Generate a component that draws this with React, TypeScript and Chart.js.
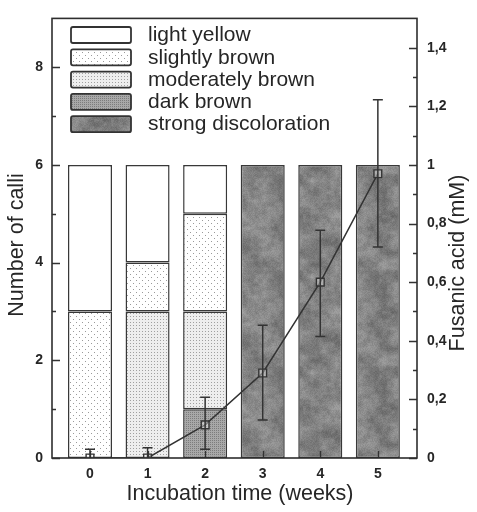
import React, { useEffect, useRef } from 'react';
import { Chart, registerables } from 'chart.js';

Chart.register(...registerables);

// ---------- data ----------
const weeks = [0, 1, 2, 3, 4, 5];
const weekLabels = ['0', '1', '2', '3', '4', '5'];
const categoryNames = ['light yellow', 'slightly brown', 'moderately brown', 'dark brown', 'strong discoloration'];
const lightYellow = [3, 2, 1, 0, 0, 0];
const slightlyBrown = [3, 1, 2, 0, 0, 0];
const moderatelyBrown = [0, 3, 2, 0, 0, 0];
const darkBrown = [0, 0, 1, 0, 0, 0];
const strongDiscoloration = [0, 0, 0, 6, 6, 6];
const fusanicAcid = [0, 0, 0.113, 0.29, 0.6, 0.97];
const fusanicLow = [0, 0, 0.03, 0.13, 0.415, 0.72];
const fusanicHigh = [0.03, 0.035, 0.207, 0.453, 0.777, 1.222];
const calliTicks = [0, 2, 4, 6, 8];
const calliTickLabels = ['0', '2', '4', '6', '8'];
const calliMinorTicks = [1, 3, 5, 7];
const acidTicks = [0, 0.2, 0.4, 0.6, 0.8, 1, 1.2, 1.4];
const acidTickLabels = ['0', '0,2', '0,4', '0,6', '0,8', '1', '1,2', '1,4'];
const acidMinorTicks = [0.1, 0.3, 0.5, 0.7, 0.9, 1.1, 1.3];
const yTitle = 'Number of calli';
const y1Title = 'Fusanic acid (mM)';
const xTitle = 'Incubation time (weeks)';

const FONT = '"Liberation Sans", Arial, sans-serif';
const INK = '#262626';

function hash(i: number, j: number) {
  const s = Math.sin(i * 12.9898 + j * 78.233) * 43758.5453;
  return s - Math.floor(s);
}

function smoothNoise(x: number, y: number, cell: number, period: number) {
  const gx = x / cell, gy = y / cell;
  const x0 = Math.floor(gx), y0 = Math.floor(gy);
  const fx = gx - x0, fy = gy - y0;
  const p = period / cell;
  const h = (a: number, b: number) => hash(((a % p) + p) % p, ((b % p) + p) % p);
  const sx = fx * fx * (3 - 2 * fx), sy = fy * fy * (3 - 2 * fy);
  const a = h(x0, y0), b = h(x0 + 1, y0), c = h(x0, y0 + 1), d = h(x0 + 1, y0 + 1);
  return (a * (1 - sx) + b * sx) * (1 - sy) + (c * (1 - sx) + d * sx) * sy;
}

function makePattern(kind: string): CanvasPattern | string {
  const c = document.createElement('canvas');
  let w = 4, h = 4;
  if (kind === 'slightly') { w = 6; h = 6; }
  if (kind === 'moderately') { w = 3; h = 3; }
  if (kind === 'dark') { w = 2; h = 2; }
  if (kind === 'strong') { w = 96; h = 96; }
  c.width = w; c.height = h;
  const g = c.getContext('2d')!;
  if (kind === 'slightly') {
    g.fillStyle = '#ffffff'; g.fillRect(0, 0, w, h);
    g.fillStyle = '#9a9a9a';
    g.fillRect(1, 1, 1, 1); g.fillRect(4, 4, 1, 1);
  } else if (kind === 'moderately') {
    g.fillStyle = '#eeeeee'; g.fillRect(0, 0, w, h);
    g.fillStyle = '#a0a0a0';
    g.fillRect(1, 1, 1, 1);
  } else if (kind === 'dark') {
    g.fillStyle = '#a8a8a8'; g.fillRect(0, 0, w, h);
    g.fillStyle = '#7c7c7c';
    g.fillRect(0, 0, 1, 1);
  } else if (kind === 'strong') {
    const img = g.createImageData(w, h);
    for (let y = 0; y < h; y++) {
      for (let x = 0; x < w; x++) {
        const n1 = smoothNoise(x, y, 12, 96) - 0.5;
        const n2 = smoothNoise(x, y, 4, 96) - 0.5;
        const fine = hash(x + 0.37, y + 0.71) - 0.5;
        const v = Math.max(0, Math.min(255, Math.round(132 + n1 * 34 + n2 * 22 + fine * 18)));
        const k = (y * w + x) * 4;
        img.data[k] = v; img.data[k + 1] = v; img.data[k + 2] = v; img.data[k + 3] = 255;
      }
    }
    g.putImageData(img, 0, 0);
  } else {
    return '#ffffff';
  }
  return g.createPattern(c, 'repeat')!;
}

export default function App() {
  const ref = useRef<HTMLCanvasElement | null>(null);

  useEffect(() => {
    document.body.style.margin = '0';
    const canvas = ref.current!;
    const fills = {
      light: makePattern('light'),
      slightly: makePattern('slightly'),
      moderately: makePattern('moderately'),
      dark: makePattern('dark'),
      strong: makePattern('strong'),
    };
    const legendFills = [fills.light, fills.slightly, fills.moderately, fills.dark, fills.strong];

    const barSet = (label: string, vals: number[], fill: any) => ({
      type: 'bar' as const,
      label,
      data: weeks.map((w, i) => ({ x: w, y: vals[i] ? vals[i] : null })),
      backgroundColor: fill,
      borderColor: '#383838',
      borderWidth: 1.5,
      borderSkipped: false,
      xAxisID: 'x',
      yAxisID: 'y',
      barPercentage: 0.765,
      categoryPercentage: 1,
      order: 2,
    });

    const overlay = {
      id: 'overlay',
      afterDraw(chart: any) {
        const ctx = chart.ctx as CanvasRenderingContext2D;
        const { left, right, top, bottom } = chart.chartArea;
        const sx = chart.scales.x, sy = chart.scales.y, sy1 = chart.scales.y1;
        ctx.save();
        // error bars
        ctx.strokeStyle = '#333';
        ctx.lineWidth = 1.5;
        weeks.forEach((w, i) => {
          const x = sx.getPixelForValue(w);
          const yl = sy1.getPixelForValue(fusanicLow[i]);
          const yh = sy1.getPixelForValue(fusanicHigh[i]);
          ctx.beginPath();
          ctx.moveTo(x, yl); ctx.lineTo(x, yh);
          ctx.moveTo(x - 5, yh); ctx.lineTo(x + 5, yh);
          if (fusanicLow[i] > 0) { ctx.moveTo(x - 5, yl); ctx.lineTo(x + 5, yl); }
          ctx.stroke();
        });
        // ticks (inward)
        ctx.strokeStyle = '#333';
        ctx.lineWidth = 1.3;
        ctx.beginPath();
        calliTicks.forEach(v => { const y = Math.round(sy.getPixelForValue(v)) + 0.5; ctx.moveTo(left, y); ctx.lineTo(left + 8, y); });
        calliMinorTicks.forEach(v => { const y = Math.round(sy.getPixelForValue(v)) + 0.5; ctx.moveTo(left, y); ctx.lineTo(left + 4, y); });
        acidTicks.forEach(v => { const y = Math.round(sy1.getPixelForValue(v)) + 0.5; ctx.moveTo(right, y); ctx.lineTo(right - 8, y); });
        acidMinorTicks.forEach(v => { const y = Math.round(sy1.getPixelForValue(v)) + 0.5; ctx.moveTo(right, y); ctx.lineTo(right - 4, y); });
        weeks.forEach(w => { const x = Math.round(sx.getPixelForValue(w)) + 0.5; ctx.moveTo(x, bottom); ctx.lineTo(x, bottom - 7); });
        ctx.stroke();
        // frame
        ctx.lineWidth = 1.6;
        ctx.strokeStyle = '#2e2e2e';
        ctx.strokeRect(left, top, right - left, bottom - top);
        // legend
        ctx.font = `21px ${FONT}`;
        ctx.textBaseline = 'middle';
        ctx.textAlign = 'left';
        categoryNames.forEach((name, i) => {
          const by = 27 + i * 22.3;
          ctx.beginPath();
          (ctx as any).roundRect(71, by, 60, 16, 2);
          ctx.fillStyle = legendFills[i] as any;
          ctx.fill();
          ctx.lineWidth = 1.8;
          ctx.strokeStyle = '#333';
          ctx.stroke();
          ctx.fillStyle = INK;
          ctx.fillText(name, 148, by + 8.5);
        });
        // axis titles
        ctx.font = `21.5px ${FONT}`;
        ctx.fillStyle = INK;
        ctx.textAlign = 'center';
        ctx.textBaseline = 'middle';
        ctx.fillText(xTitle, 240, 494);
        ctx.save();
        ctx.translate(17, 245);
        ctx.rotate(-Math.PI / 2);
        ctx.fillText(yTitle, 0, 0);
        ctx.restore();
        ctx.save();
        ctx.translate(458, 263);
        ctx.rotate(-Math.PI / 2);
        ctx.fillText(y1Title, 0, 0);
        ctx.restore();
        ctx.restore();
      },
    };

    const tickFont = { family: FONT, size: 14, weight: 'bold' as const };

    const chart = new Chart(canvas, {
      type: 'bar',
      data: {
        datasets: [
          barSet(categoryNames[4], strongDiscoloration, fills.strong),
          barSet(categoryNames[3], darkBrown, fills.dark),
          barSet(categoryNames[2], moderatelyBrown, fills.moderately),
          barSet(categoryNames[1], slightlyBrown, fills.slightly),
          barSet(categoryNames[0], lightYellow, fills.light),
          {
            type: 'line' as const,
            label: 'Fusanic acid',
            data: weeks.map((w, i) => ({ x: w, y: fusanicAcid[i] })),
            xAxisID: 'x',
            yAxisID: 'y1',
            borderColor: '#333',
            borderWidth: 1.5,
            tension: 0,
            pointStyle: 'rect',
            pointRadius: 5.5,
            pointBorderColor: '#333',
            pointBorderWidth: 1.4,
            pointBackgroundColor: 'rgba(255,255,255,0.35)',
            order: 1,
          } as any,
        ],
      },
      options: {
        animation: false,
        responsive: false,
        maintainAspectRatio: false,
        layout: { padding: { top: 7, left: 0, right: 0, bottom: 0 } },
        plugins: { legend: { display: false }, tooltip: { enabled: false }, title: { display: false } },
        scales: {
          x: {
            type: 'linear',
            min: -0.66,
            max: 5.68,
            offset: false,
            stacked: true,
            grid: { display: false, drawTicks: false },
            border: { display: false },
            afterBuildTicks: (s: any) => { s.ticks = weeks.map(v => ({ value: v })); },
            afterFit: (s: any) => { s.height = 54; },
            ticks: {
              autoSkip: false,
              maxRotation: 0,
              padding: 8,
              color: INK,
              font: tickFont,
              callback: (_v: any, i: number) => weekLabels[i],
            },
          },
          y: {
            type: 'linear',
            position: 'left',
            min: 0,
            max: 9,
            stacked: true,
            grid: { display: false, drawTicks: false },
            border: { display: false },
            afterBuildTicks: (s: any) => { s.ticks = calliTicks.map(v => ({ value: v })); },
            afterFit: (s: any) => { s.width = 52; },
            ticks: { padding: 9, color: INK, font: tickFont, callback: (_v: any, i: number) => calliTickLabels[i] },
          },
          y1: {
            type: 'linear',
            position: 'right',
            min: 0,
            max: 1.5,
            grid: { display: false, drawTicks: false },
            border: { display: false },
            afterBuildTicks: (s: any) => { s.ticks = acidTicks.map(v => ({ value: v })); },
            afterFit: (s: any) => { s.width = 60; },
            ticks: { padding: 10, color: INK, font: tickFont, callback: (_v: any, i: number) => acidTickLabels[i] },
          },
        },
      } as any,
      plugins: [overlay],
    });
    return () => chart.destroy();
  }, []);

  return <canvas ref={ref} width={477} height={512} style={{ display: 'block' }} />;
}
